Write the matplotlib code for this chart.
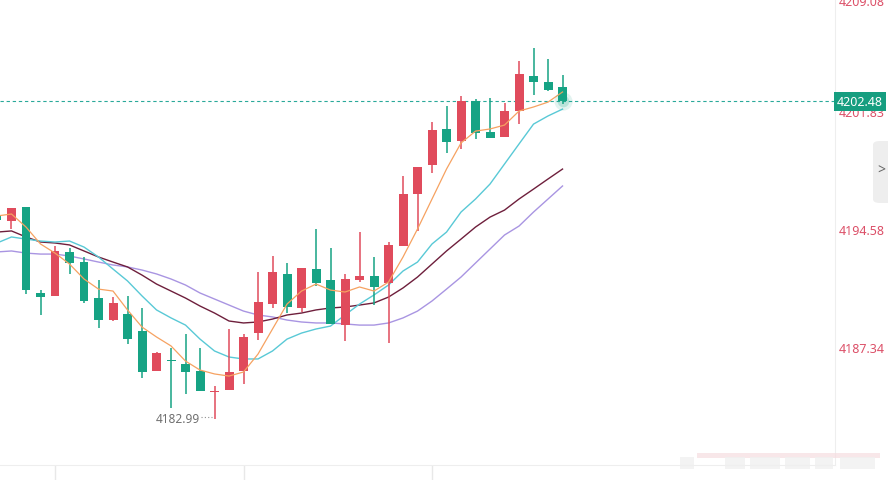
import numpy as np
import matplotlib.pyplot as plt
import matplotlib.transforms as mtransforms
from matplotlib.patches import FancyBboxPatch, Rectangle

plt.rcParams['font.family'] = ['Noto Sans', 'DejaVu Sans']

# OHLC of each candle (left to right)
opens = [4195.51, 4195.14, 4196.00, 4190.72, 4190.54, 4193.24, 4192.62, 4190.41, 4189.06, 4189.43,
         4188.39, 4185.93, 4186.61, 4186.36, 4185.93, 4184.64, 4184.77, 4185.93, 4188.26, 4190.04,
         4191.89, 4189.80, 4192.19, 4191.52, 4188.75, 4191.52, 4191.76, 4191.33, 4193.60, 4196.80,
         4198.58, 4200.79, 4200.05, 4202.51, 4200.60, 4200.30, 4201.89, 4204.04, 4203.67, 4203.37]
highs = [4195.69, 4195.96, 4196.00, 4190.90, 4193.60, 4193.48, 4192.93, 4191.52, 4190.47, 4190.54,
         4189.80, 4187.10, 4187.34, 4188.20, 4187.34, 4185.01, 4188.51, 4188.20, 4192.01, 4192.99,
         4192.56, 4192.27, 4194.65, 4193.48, 4191.89, 4194.46, 4192.93, 4193.85, 4197.90, 4198.47,
         4201.22, 4202.20, 4202.81, 4202.63, 4202.69, 4202.38, 4204.96, 4205.76, 4205.08, 4204.10]
lows = [4195.08, 4194.65, 4190.66, 4189.37, 4190.54, 4191.89, 4190.11, 4188.57, 4189.00, 4187.59,
        4185.50, 4185.93, 4183.66, 4184.52, 4184.70, 4182.99, 4184.77, 4185.13, 4187.83, 4189.80,
        4189.49, 4189.55, 4191.15, 4188.82, 4187.77, 4191.39, 4189.98, 4187.65, 4193.60, 4194.53,
        4198.09, 4199.31, 4199.56, 4200.17, 4200.23, 4200.30, 4201.09, 4202.87, 4203.12, 4202.32]
closes = [4195.20, 4195.94, 4190.90, 4190.47, 4193.30, 4192.56, 4190.23, 4189.06, 4190.11, 4187.89,
          4185.87, 4187.04, 4186.54, 4185.87, 4184.70, 4184.70, 4185.87, 4188.02, 4190.17, 4192.01,
          4189.86, 4192.25, 4191.33, 4188.82, 4191.58, 4191.76, 4191.09, 4193.67, 4196.80, 4198.45,
          4200.73, 4199.99, 4202.51, 4200.54, 4200.23, 4201.89, 4204.16, 4203.67, 4203.18, 4202.48]

# moving averages at each candle
ma5 = [4195.45, 4195.57, 4194.77, 4193.73, 4193.17, 4192.50, 4191.58, 4190.96, 4190.84, 4189.68,
       4188.63, 4188.02, 4187.47, 4186.54, 4185.99, 4185.75, 4185.62, 4185.87, 4186.97, 4188.51,
       4190.04, 4190.84, 4191.27, 4190.90, 4190.78, 4191.09, 4190.84, 4191.39, 4192.93, 4194.65,
       4196.49, 4198.33, 4199.93, 4200.66, 4200.79, 4201.03, 4201.89, 4202.14, 4202.44, 4203.06]
ma10 = [4193.79, 4194.16, 4194.03, 4193.91, 4193.85, 4193.91, 4193.54, 4192.93, 4192.19, 4191.46,
        4190.54, 4189.68, 4189.19, 4188.75, 4187.89, 4187.16, 4186.79, 4186.67, 4186.67, 4187.16,
        4187.89, 4188.26, 4188.51, 4188.69, 4189.37, 4190.04, 4190.60, 4191.21, 4192.07, 4192.62,
        4193.73, 4194.46, 4195.69, 4196.49, 4197.41, 4198.64, 4199.87, 4201.09, 4201.59, 4202.01]
ma20 = [4194.46, 4194.53, 4194.16, 4193.85, 4193.79, 4193.67, 4193.30, 4192.93, 4192.62, 4192.32,
        4191.82, 4191.27, 4190.84, 4190.41, 4189.92, 4189.49, 4189.00, 4188.88, 4188.94, 4189.12,
        4189.37, 4189.49, 4189.68, 4189.80, 4189.86, 4189.98, 4190.11, 4190.47, 4191.03, 4191.70,
        4192.50, 4193.30, 4194.03, 4194.77, 4195.38, 4195.81, 4196.49, 4197.10, 4197.72, 4198.33]
ma30 = [4193.24, 4193.30, 4193.17, 4193.11, 4193.11, 4192.99, 4192.81, 4192.62, 4192.44, 4192.32,
        4192.13, 4191.89, 4191.58, 4191.21, 4190.72, 4190.35, 4189.98, 4189.61, 4189.37, 4189.25,
        4189.06, 4188.94, 4188.88, 4188.88, 4188.82, 4188.75, 4188.75, 4188.88, 4189.19, 4189.61,
        4190.23, 4190.96, 4191.70, 4192.56, 4193.42, 4194.28, 4194.83, 4195.69, 4196.49, 4197.29]

price_labels = ["4209.08", "4201.83", "4194.58", "4187.34"]
price_levels = [4209.08, 4201.83, 4194.58, 4187.34]
last_price = 4202.48
low_price = 4182.99
low_idx = 15
tick_idx = [4, 17, 30]

UP = "#e04b5c"
DOWN = "#16a384"
LABEL = "#dc5068"

fig = plt.figure(figsize=(8.88, 4.81), dpi=100)
ax = fig.add_axes([0, 15 / 481, 835 / 888, 466 / 481])

x = np.arange(len(opens))
o = np.array(opens)
c = np.array(closes)
cols = [UP if cc > oo else DOWN for oo, cc in zip(opens, closes)]

# candles
ax.vlines(x, lows, highs, colors=cols, lw=1.1, zorder=2)
body = np.maximum(np.abs(c - o), 0.07)
ax.bar(x, body, bottom=np.minimum(o, c), width=0.62, color=cols, zorder=3)

# moving averages
ax.plot(x, ma30, color="#a995e2", lw=1, zorder=1)
ax.plot(x, ma20, color="#6e1f3c", lw=1, zorder=1)
ax.plot(x, ma10, color="#59c9d6", lw=1, zorder=1)
ax.plot(x, ma5, color="#f6a261", lw=0.9, zorder=4)

# last price line + glow
ax.axhline(last_price, color="#2aa99a", lw=0.8, ls=(0, (3, 2.5)), zorder=1)
ax.scatter([x[-1]], [closes[-1]], s=170, color=DOWN, alpha=0.12, lw=0, zorder=5)
ax.scatter([x[-1]], [closes[-1]], s=70, color=DOWN, alpha=0.2, lw=0, zorder=5)

# low marker
ax.text(low_idx - 1.0, low_price, "4182.99", ha="right", va="center",
        fontsize=8.5, color="#707070")
ax.plot([low_idx - 0.95, low_idx - 0.2], [low_price + 0.1, low_price + 0.1],
        color="#909090", lw=0.8, ls=(0, (1, 2)))

ax.set_xlim(0.207, 57.79)
ax.set_ylim(4180.16, 4208.77)

for s in ["top", "left"]:
    ax.spines[s].set_visible(False)
ax.spines["right"].set_color("#eeeeee")
ax.spines["bottom"].set_color("#eeeeee")
ax.set_yticks([])
ax.set_xticks(tick_idx)
ax.set_xticklabels([])
ax.tick_params(axis="x", length=12, color="#e8e8e8", width=1)

# right axis labels
tr = mtransforms.blended_transform_factory(ax.transAxes, ax.transData)
for lab, lev in zip(price_labels[1:], price_levels[1:]):
    ax.text(1.004, lev, lab, transform=tr, ha="left", va="center",
            fontsize=9, color=LABEL, clip_on=False)
ax.text(1.004, 1 - 3 / 466, price_labels[0], transform=ax.transAxes, ha="left",
        va="center", fontsize=9, color=LABEL, clip_on=False)
ax.text(1.0025, last_price, "4202.48", transform=tr, ha="left", va="center",
        fontsize=9, color="white", clip_on=False, zorder=10,
        bbox=dict(boxstyle="square,pad=0.22", fc="#169e80", ec="none"))

# collapse tab on the right edge
tab = FancyBboxPatch((873 / 888, (481 - 204) / 481), 0.03, 62 / 481,
                     boxstyle="round,pad=0,rounding_size=0.008",
                     transform=fig.transFigure, fc="#eeeeee", ec="none")
fig.patches.append(tab)
fig.text(881 / 888, (481 - 171) / 481, ">", ha="center", va="center",
         fontsize=10, color="#666666")

# blurred watermark bottom right
fig.patches.append(Rectangle((697 / 888, (481 - 459) / 481), 183 / 888, 5 / 481,
                             transform=fig.transFigure, fc="#f6dde1", ec="none", alpha=0.7))
for x0, w in [(680, 14), (725, 20), (750, 30), (785, 25), (815, 18), (840, 35)]:
    fig.patches.append(Rectangle((x0 / 888, (481 - 470) / 481), w / 888, 12 / 481,
                                 transform=fig.transFigure, fc="#f0f0f0", ec="none", alpha=0.8))

plt.savefig("out.png", dpi=100)
